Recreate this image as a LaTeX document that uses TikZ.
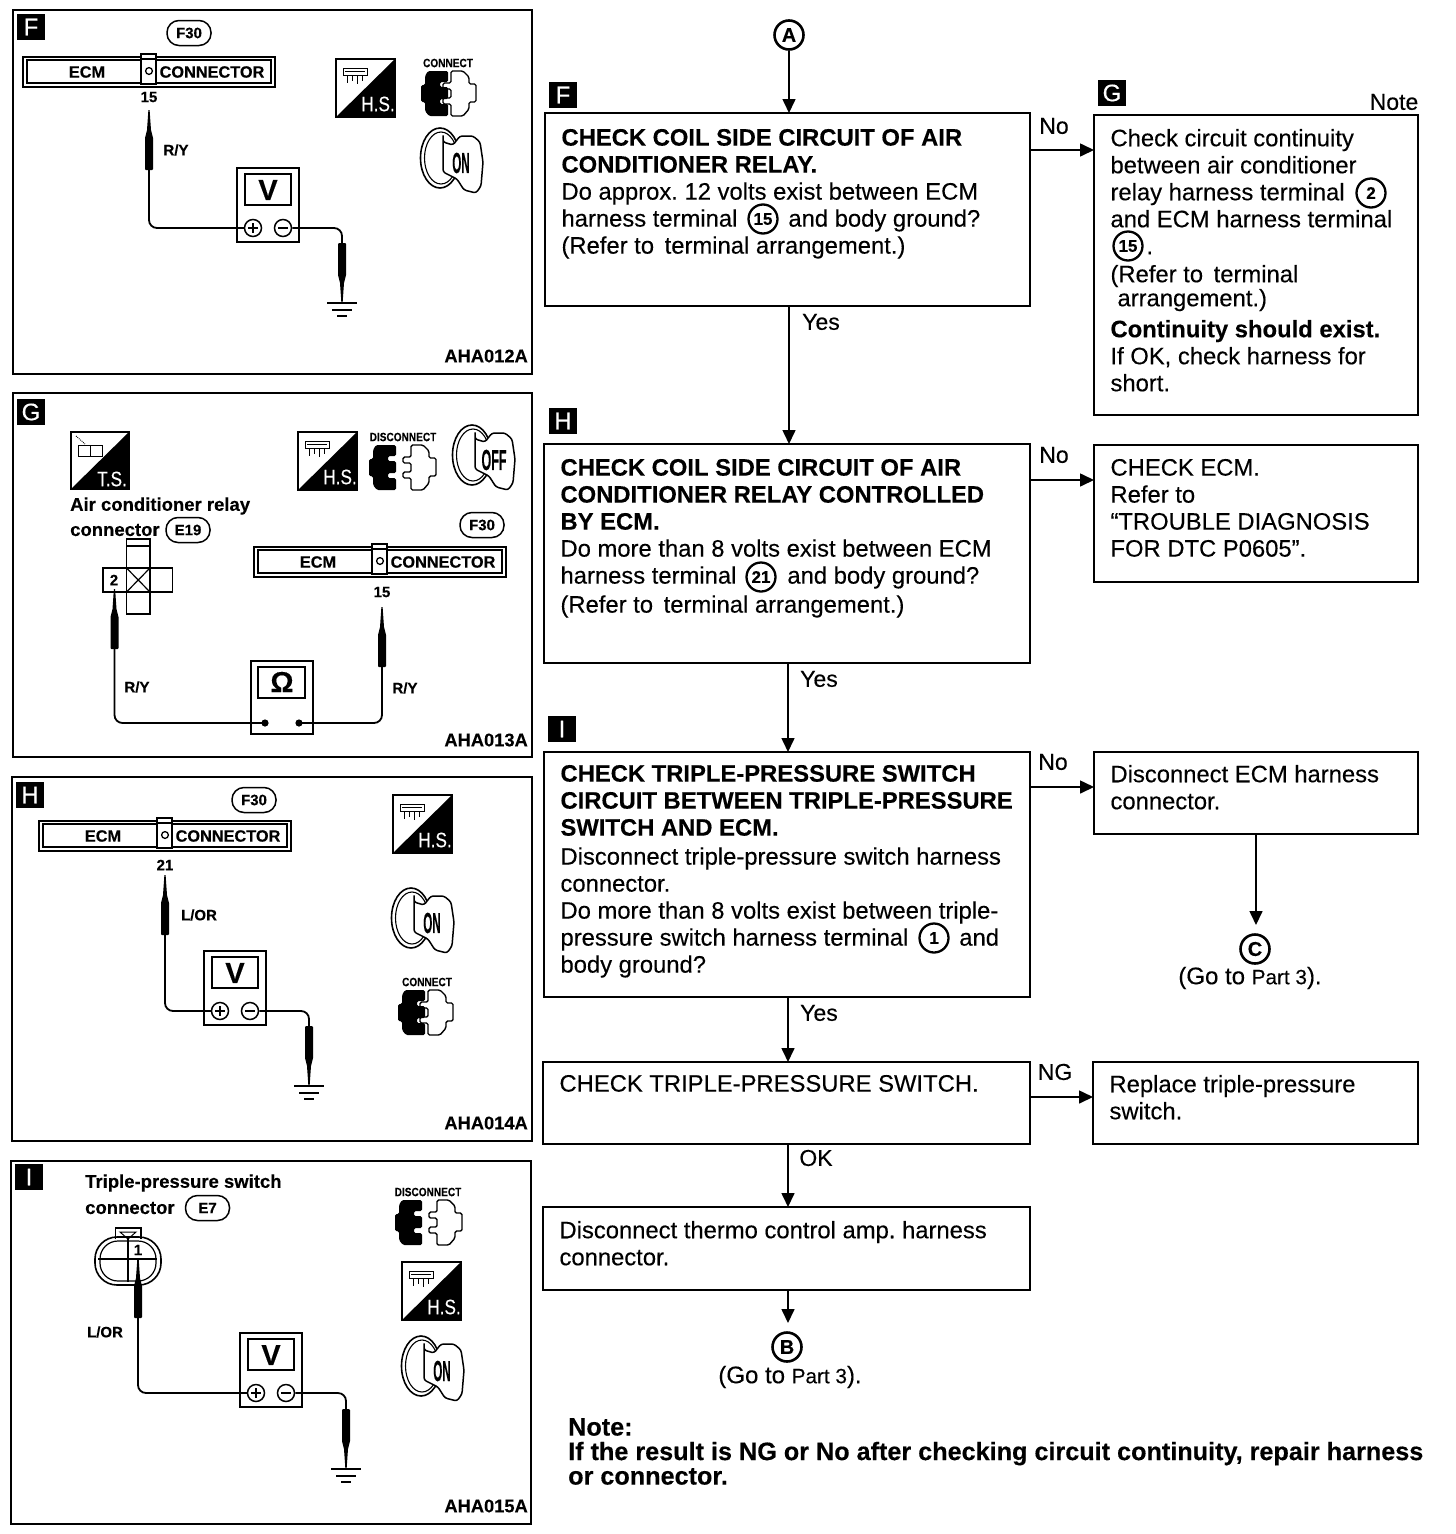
\documentclass[tikz,border=0pt]{standalone}
\usepackage{fontspec}
\setmainfont{Liberation Sans}[FakeBold=0.25]
\usetikzlibrary{arrows.meta}
\newcommand{\fs}[2]{\fontsize{#1}{#2}\selectfont}
\frenchspacing
\tikzset{
  x=1pt,y=-1pt,
  panelbox/.style={draw,line width=2.2pt},
  flowbody/.style={draw,line width=2.2pt,fill=white,inner sep=0pt,outer sep=0pt,anchor=north west,font=\fs{23.8}{27}},
  tagbox/.style={fill=black,text=white,inner sep=0pt,minimum width=28pt,minimum height=26pt,font=\fs{24}{24}},
  flowarrow/.style={line width=1.6pt,-{Triangle[length=14pt,width=13pt]}},
  flowlbl/.style={inner sep=0pt,font=\fs{23}{23}},
  circnum/.style={circle,draw,line width=2.3pt,inner sep=0pt,minimum size=29pt,font=\bfseries\fs{17}{17}},
  circlet/.style={circle,draw,line width=2.6pt,inner sep=0pt,minimum size=29pt,font=\bfseries\fs{20}{20}},
  partlbl/.style={inner sep=0pt,font=\fs{24}{24}},
  lbl/.style={inner sep=0pt,font=\bfseries\fs{15}{15}},
  biglbl/.style={inner sep=0pt,anchor=west,font=\bfseries\fs{18.5}{18.5}},
  codelbl/.style={inner sep=0pt,anchor=east,font=\bfseries\fs{18.3}{18.3}},
  oval/.style={draw,line width=1.5pt,rounded corners=12pt,minimum width=44pt,minimum height=25pt,inner sep=0pt,font=\bfseries\fs{15}{15}},
  tinylbl/.style={inner sep=0pt,font=\bfseries\fs{12}{12},xscale=.84,transform shape},
  wire/.style={line width=1.8pt,rounded corners=8pt},
  probepic/.pic={
    \fill (-0.6,0) -- (0.6,0) -- (2,20) -- (4,28) [rounded corners=1pt] -- (4,60) -- (-4,60) [sharp corners] -- (-4,28) -- (-2,20) -- cycle;
    \coordinate (-end) at (0,60);
  },
  groundpic/.pic={
    \draw[line width=2pt] (-15,0) -- (15,0);
    \draw[line width=2pt] (-10,7) -- (10,7);
    \draw[line width=2pt] (-5,13) -- (5,13);
  },
  meterV/.pic={
    \draw[line width=1.5pt,fill=white] (0,0) rectangle (62,74);
    \draw[line width=1.5pt] (8,6) rectangle (54,37);
    \node[inner sep=0pt,font=\bfseries\fs{29}{29}] (-sym) at (31,22) {V};
    \node[circle,draw,line width=1.5pt,fill=white,minimum size=17pt,inner sep=0pt] (-plus) at (16,60) {};
    \node[circle,draw,line width=1.5pt,fill=white,minimum size=17pt,inner sep=0pt] (-minus) at (46,60) {};
    \draw[line width=1.6pt] (11,60) -- (21,60) (16,55) -- (16,65) (41,60) -- (51,60);
  },
  meterO/.pic={
    \draw[line width=1.5pt,fill=white] (0,0) rectangle (62,73);
    \draw[line width=1.5pt] (7,6) rectangle (54,37);
    \node[inner sep=0pt,font=\bfseries\fs{29}{29}] (-sym) at (31,21) {Ω};
    \fill (14,62) circle (3.6);
    \fill (48,62) circle (3.6);
    \coordinate (-a) at (14,62);
    \coordinate (-b) at (48,62);
  },
  ecmbar/.pic={
    \draw[line width=1.6pt] (0,0) rectangle (252,30);
    \draw[line width=1.6pt] (4,3) rectangle (248,26);
    \draw[line width=1.4pt,fill=white] (118,27) -- (118,-3) -- (133,-3) -- (133,27) -- cycle;
    \draw[line width=1.2pt] (118,2) -- (133,2);
    \draw[line width=1.3pt] (126,14) circle (3.4);
    \node[lbl,font=\bfseries\fs{16.3}{16.3}] (-a) at (64,15) {ECM};
    \node[lbl,font=\bfseries\fs{16.3}{16.3}] (-b) at (189,15) {CONNECTOR};
  },
  hsicon/.pic={
    \draw[line width=1.6pt,fill=white] (0,0) rectangle (59,58);
    \fill (59,0) -- (59,58) -- (0,58) -- cycle;
    \draw[line width=.7pt] (7,9) rectangle (31,16);
    \draw[line width=.7pt] (11,16) -- (11,24) (16,16) -- (16,22) (21,16) -- (21,25) (26,16) -- (26,22) (9,12) -- (29,12);
    \node[inner sep=0pt,text=white,font=\fs{21}{21},xscale=.82,transform shape] (-t) at (42,45) {H.S.};
  },
  tsicon/.pic={
    \draw[line width=1.6pt,fill=white] (0,0) rectangle (58,57);
    \fill (58,0) -- (58,57) -- (0,57) -- cycle;
    \draw[line width=.9pt] (7,13) rectangle (19,24) (19,13) rectangle (31,24);
    \draw[line width=.9pt,densely dotted] (5,4) -- (14,12);
    \node[inner sep=0pt,text=white,font=\fs{21}{21},xscale=.82,transform shape] (-t) at (41,47) {T.S.};
  },
  blackplug/.pic={
    \fill[rounded corners=1.5pt] (7,0) -- (27,0) -- (27,11) -- (19,11) -- (19,16) -- (27,16) -- (27,28) -- (19,28) -- (19,33) -- (27,33) -- (27,45) -- (8,45) -- (4,40) -- (4,31) -- (0,31) -- (0,14) -- (4,14) -- (4,5) -- cycle;
  },
  whiteplug/.pic={
    \draw[line width=1.4pt,fill=white,rounded corners=1.5pt] (8,0) -- (20,0) -- (26,6) -- (26,13) -- (33,13) -- (33,31) -- (26,31) -- (26,38) -- (20,45) -- (8,45) -- (8,33) -- (0,33) -- (0,27) -- (8,27) -- (8,18) -- (0,18) -- (0,12) -- (8,12) -- cycle;
  },
  plugon/.pic={
    \pic at (22,0) {whiteplug};
    \pic at (0,0) {blackplug};
  },
  plugoff/.pic={
    \pic at (34,0) {whiteplug};
    \pic at (0,0) {blackplug};
  },
  keyshape/.pic={
    \draw[line width=1.6pt] (20,30) ellipse (19.5 and 30);
    \draw[line width=1.1pt] (21,30) ellipse (16.5 and 26);
    \draw[line width=1.5pt,fill=white,rounded corners=2.5pt] (23,6) -- (23,14) -- (33,17) -- (40,8) -- (53,8) -- (60,14) -- (63,34) -- (61,58) -- (56,65) -- (44,62) -- (37,51) -- (23,44) -- cycle;
  },
  keyon/.pic={
    \pic at (0,0) {keyshape};
    \node[inner sep=0pt,font=\bfseries\fs{29}{29},xscale=.4,transform shape] (-t) at (41,35) {ON};
  },
  keyoff/.pic={
    \pic at (0,0) {keyshape};
    \node[inner sep=0pt,font=\bfseries\fs{29}{29},xscale=.43,transform shape] (-t) at (42,35) {OFF};
  },
}
\newcommand{\flowbox}[7]{%
  \node[flowbody] (#1) at (#2,#3) {\parbox[c][#5pt][t]{#4pt}{\leftskip=16.5pt\rightskip=0pt plus 1fil\parindent=0pt\parskip=0pt\fs{23.8}{27}\vspace*{#6pt}#7}};}
\begin{document}
\begin{tikzpicture}
\useasboundingbox (0,0) rectangle (1456,1534);
\fill[white] (0,0) rectangle (1456,1534);

%% ---------- panel F ----------
\draw[panelbox] (13,10) rectangle (532,374);
\node[tagbox] (pF) at (31,27) {F};
\node[oval] (pFo) at (189,33) {F30};
\pic (pFbar) at (23,57) {ecmbar};
\node[lbl] (pFn) at (149,97) {15};
\pic (pFp) at (149,110) {probepic};
\node[lbl] (pFw) at (176,150) {R/Y};
\pic (pFm) at (237,168) {meterV};
\draw[wire] (pFp-end) |- (pFm-plus.west);
\pic[yscale=-1] (pFq) at (342,303) {probepic};
\draw[wire] (pFm-minus.east) -| (pFq-end);
\pic at (342,303) {groundpic};
\pic (pFh) at (336,59) {hsicon};
\node[tinylbl] (pFc) at (448,63) {CONNECT};
\pic at (421,71) {plugon};
\pic (pFk) at (420,128) {keyon};
\node[codelbl] (pFa) at (528,356) {AHA012A};

%% ---------- panel G ----------
\draw[panelbox] (13,393) rectangle (532,757);
\node[tagbox] (pG) at (31,412) {G};
\pic (pGt) at (71,432) {tsicon};
\pic (pGh) at (298,432) {hsicon};
\node[tinylbl] (pGd) at (403,437) {DISCONNECT};
\pic at (369,445) {plugoff};
\pic (pGk) at (452,425) {keyoff};
\node[biglbl] (pGl1) at (70,506) {Air conditioner relay};
\node[biglbl] (pGl2) at (70,530) {connector};
\node[oval] (pGo1) at (188,530) {E19};
\node[oval] (pGo2) at (482,525) {F30};
\pic (pGbar) at (254,547) {ecmbar};
\node[lbl] (pGn) at (382,592) {15};
\draw[line width=1.6pt] (126.5,539) rectangle (150,614);
\draw[line width=1.6pt] (126.5,546) -- (150,546);
\draw[line width=1.6pt,fill=white] (103,568) rectangle (172.5,592);
\draw[line width=1.6pt] (126.5,568) rectangle (150,592);
\draw[line width=1.2pt] (126.5,568) -- (150,592) (126.5,592) -- (150,568);
\node[lbl] (pGt2) at (114,580) {2};
\pic (pGp1) at (114.5,589) {probepic};
\pic (pGp2) at (382,607) {probepic};
\pic (pGm) at (251,661) {meterO};
\draw[wire] (pGp1-end) |- (pGm-a);
\draw[wire] (pGp2-end) |- (pGm-b);
\node[lbl] (pGw1) at (137,687) {R/Y};
\node[lbl] (pGw2) at (405,688) {R/Y};
\node[codelbl] (pGa) at (528,740) {AHA013A};

%% ---------- panel H ----------
\draw[panelbox] (12,777) rectangle (532,1141);
\node[tagbox] (pH) at (30,795) {H};
\node[oval] (pHo) at (254,800) {F30};
\pic (pHbar) at (39,821) {ecmbar};
\node[lbl] (pHn) at (165,865) {21};
\pic (pHp) at (165,875) {probepic};
\node[lbl] (pHw) at (199,915) {L/OR};
\pic (pHm) at (204,951) {meterV};
\draw[wire] (pHp-end) |- (pHm-plus.west);
\pic[yscale=-1] (pHq) at (309,1086) {probepic};
\draw[wire] (pHm-minus.east) -| (pHq-end);
\pic at (309,1086) {groundpic};
\pic (pHh) at (393,795) {hsicon};
\pic (pHk) at (391,888) {keyon};
\node[tinylbl] (pHc) at (427,982) {CONNECT};
\pic at (398,990) {plugon};
\node[codelbl] (pHa) at (528,1123) {AHA014A};

%% ---------- panel I ----------
\draw[panelbox] (11,1161) rectangle (531,1524);
\node[tagbox] (pI) at (29,1177) {I};
\node[biglbl] (pIl1) at (85,1183) {Triple-pressure switch};
\node[biglbl] (pIl2) at (85,1208) {connector};
\node[oval] (pIo) at (207.5,1208) {E7};
\draw[line width=1.6pt] (115.5,1239) -- (115.5,1228) -- (140.7,1228) -- (140.7,1239);
\draw[line width=1pt] (120,1232) -- (136,1232) -- (128,1239) -- cycle;
\draw[line width=1.6pt,rounded corners=22pt] (95,1237) rectangle (161,1285);
\draw[line width=1.2pt,rounded corners=18pt] (100,1241) rectangle (156,1281);
\draw[line width=1.4pt] (98,1259) -- (157,1259) (128,1239) -- (128,1282) (138,1260) -- (138,1282);
\node[lbl] (pIt) at (138,1250) {1};
\pic (pIp) at (138,1258) {probepic};
\node[lbl] (pIw) at (105,1332) {L/OR};
\pic (pIm) at (240,1333) {meterV};
\draw[wire] (pIp-end) |- (pIm-plus.west);
\pic[yscale=-1] (pIq) at (346,1469) {probepic};
\draw[wire] (pIm-minus.east) -| (pIq-end);
\pic at (346,1469) {groundpic};
\node[tinylbl] (pId) at (428,1192) {DISCONNECT};
\pic at (395,1200) {plugoff};
\pic (pIh) at (402,1262) {hsicon};
\pic (pIk) at (401,1336) {keyon};
\node[codelbl] (pIa) at (528,1506) {AHA015A};

%% ---------- flow ----------
\node[circlet] (A) at (789,35) {A};
\node[tagbox] (tF) at (563,95) {F};
\node[tagbox] (tG) at (1112,93) {G};
\node[flowlbl] (noteT) at (1394,102) {Note};

\flowbox{bF}{545}{113}{485}{193}{16}{\textbf{CHECK COIL SIDE CIRCUIT OF AIR\\CONDITIONER RELAY.}\\Do approx. 12 volts exist between ECM\\harness terminal\hspace{51pt}and body ground?\\(Refer to\hspace{4pt} terminal arrangement.)}
\flowbox{bG}{1094}{115}{324}{300}{14}{Check circuit continuity\\between air conditioner\\relay harness terminal\\and ECM harness terminal\\\hspace*{36pt}.\\[1pt](Refer to\hspace{4pt} terminal\\[-3pt]\hspace*{7pt}arrangement.)\\[4pt]\textbf{Continuity should exist.}\\If OK, check harness for\\short.}
\flowbox{bH}{544}{444}{486}{219}{15}{\textbf{CHECK COIL SIDE CIRCUIT OF AIR\\CONDITIONER RELAY CONTROLLED\\BY ECM.}\\Do more than 8 volts exist between ECM\\harness terminal\hspace{51pt}and body ground?\\[2pt](Refer to\hspace{4pt} terminal arrangement.)}
\flowbox{bE}{1094}{445}{324}{137}{14}{CHECK ECM.\\Refer to\\“TROUBLE DIAGNOSIS\\FOR DTC P0605”.}
\flowbox{bI}{544}{752}{486}{245}{13}{\textbf{CHECK TRIPLE-PRESSURE SWITCH\\CIRCUIT BETWEEN TRIPLE-PRESSURE\\SWITCH AND ECM.}\\[2pt]Disconnect triple-pressure switch harness\\connector.\\Do more than 8 volts exist between triple-\\pressure switch harness terminal\hspace{51pt}and\\body ground?}
\flowbox{bD}{1094}{752}{324}{82}{13}{Disconnect ECM harness\\connector.}
\flowbox{bT}{543}{1062}{487}{82}{13}{CHECK TRIPLE-PRESSURE SWITCH.}
\flowbox{bR}{1093}{1062}{325}{82}{13}{Replace triple-pressure\\switch.}
\flowbox{bM}{543}{1207}{487}{83}{14}{Disconnect thermo control amp. harness\\connector.}

\node[circnum] (c15a) at (763,219) {15};
\node[circnum] (c2) at (1371,193) {2};
\node[circnum] (c15b) at (1128,246) {15};
\node[circnum] (c21) at (761,577) {21};
\node[circnum] (c1) at (934,938) {1};

\node[tagbox] (tH) at (563,421) {H};
\node[tagbox] (tI) at (562,729) {I};

\node[circlet] (B) at (787,1347) {B};
\node[circlet] (C) at (1255,949) {C};
\node[partlbl] (pB) at (790,1377) {(Go to {\fs{20.7}{21}Part 3}).};
\node[partlbl] (pC) at (1250,978) {(Go to {\fs{20.7}{21}Part 3}).};

\coordinate (rowF) at (0,150);
\coordinate (rowH) at (0,480);
\coordinate (rowI) at (0,787);
\coordinate (rowT) at (0,1097);
\coordinate (colA) at (789,0);
\coordinate (colB) at (788,0);

\draw[flowarrow] (A.south) -- (colA |- bF.north);
\draw[flowarrow] (colA |- bF.south) -- (colA |- bH.north);
\draw[flowarrow] (colB |- bH.south) -- (colB |- bI.north);
\draw[flowarrow] (colB |- bI.south) -- (colB |- bT.north);
\draw[flowarrow] (colB |- bT.south) -- (colB |- bM.north);
\coordinate (endB) at (0,1323);
\draw[flowarrow] (colB |- bM.south) -- (colB |- endB);
\draw[flowarrow] (bF.east |- rowF) -- (bG.west |- rowF);
\draw[flowarrow] (bH.east |- rowH) -- (bE.west |- rowH);
\draw[flowarrow] (bI.east |- rowI) -- (bD.west |- rowI);
\draw[flowarrow] (bT.east |- rowT) -- (bR.west |- rowT);
\coordinate (endC) at (0,925);
\draw[flowarrow] (bD.south) -- (bD.south |- endC);

\node[flowlbl] (lNo1) at (1054,126) {No};
\node[flowlbl] (lYes1) at (821,322) {Yes};
\node[flowlbl] (lNo2) at (1054,455) {No};
\node[flowlbl] (lYes2) at (819,679) {Yes};
\node[flowlbl] (lNo3) at (1053,762) {No};
\node[flowlbl] (lYes3) at (819,1013) {Yes};
\node[flowlbl] (lNG) at (1055,1072) {NG};
\node[flowlbl] (lOK) at (816,1158) {OK};

\node[inner sep=0pt,anchor=north west,align=left,font=\bfseries\fs{25.2}{24.5}] (note) at (568,1418) {Note:\\If the result is NG or No after checking circuit continuity, repair harness\\or connector.};
\end{tikzpicture}
\end{document}
